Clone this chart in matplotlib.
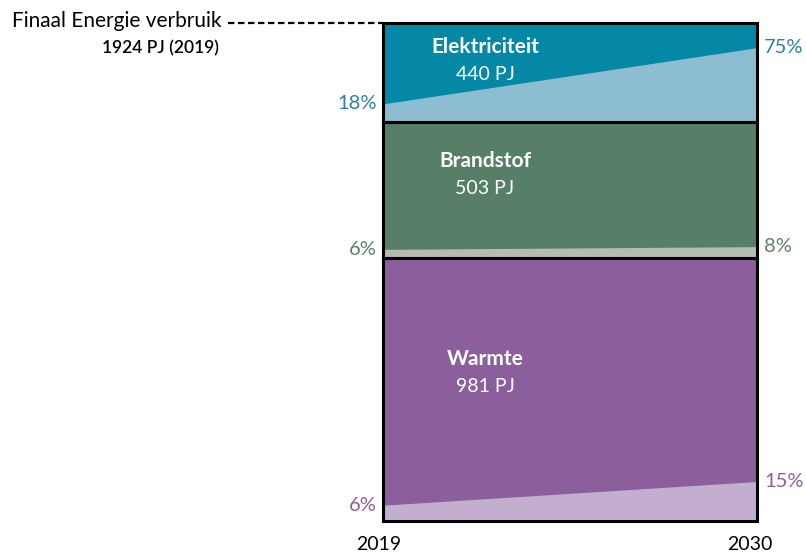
import matplotlib
matplotlib.use("Agg")
import matplotlib.pyplot as plt
import matplotlib.transforms as mtransforms

plt.rcParams['font.family'] = ['Lato', 'DejaVu Sans']

# ---- data ----
years = [2019, 2030]
categories = ["Warmte", "Brandstof", "Elektriciteit"]       # bottom -> top
pj_values = [981, 503, 440]                                    # labels (PJ)
drawn_height = [1018, 525, 381]                                # block heights as drawn in picture
share_2019 = [6, 6, 18]                                        # renewable share (%)
share_2030 = [15, 8, 75]
total_label = "1924 PJ (2019)"
title_label = "Finaal Energie verbruik"

dark_colors = ["#8B5F9B", "#577F67", "#0587A6"]
light_colors = ["#C4AECF", "#B5BCB1", "#8CBDD0"]
pct_colors = ["#8B5F9B", "#5E8068", "#2D80A6"]

# ---- figure ----
W, H = 806, 553
fig = plt.figure(figsize=(W / 100, H / 100), dpi=100)
left, right, top, bottom = 383, 757, 23, 521
ax = fig.add_axes([left / W, 1 - bottom / H, (right - left) / W, (bottom - top) / H])
total = sum(drawn_height)
ax.set_xlim(years[0], years[1])
ax.set_ylim(0, total)
ax.axis("off")

base = 0
label_x = 2022.0
label_frac = [0.385, 0.29, 0.24]
for i, cat in enumerate(categories):
    h = drawn_height[i]
    y0, y1 = base, base + h
    ax.fill_between(years, [y0, y0], [y1, y1], color=dark_colors[i], lw=0)
    ax.fill_between(years, [y0, y0],
                    [y0 + h * share_2019[i] / 100, y0 + h * share_2030[i] / 100],
                    color=light_colors[i], lw=0)
    ax.plot([years[0], years[1], years[1], years[0], years[0]],
            [y0, y0, y1, y1, y0], color="black", lw=2.2, clip_on=False,
            solid_joinstyle="miter")
    # block labels
    yc = y1 - h * label_frac[i]
    ax.text(label_x, yc, cat, color="white", fontsize=15, fontweight="bold",
            ha="center", va="center")
    ax.text(label_x, yc - total * 0.055, f"{pj_values[i]} PJ", color="white",
            fontsize=14, ha="center", va="center")
    # percentage labels
    off = mtransforms.offset_copy(ax.transData, fig=fig, x=-6, y=0, units="dots")
    ax.text(years[0], y0 + h * share_2019[i] / 100, f"{share_2019[i]}%",
            color=pct_colors[i], fontsize=14.5, ha="right", va="center",
            transform=off)
    off2 = mtransforms.offset_copy(ax.transData, fig=fig, x=7, y=0, units="dots")
    ax.text(years[1], y0 + h * share_2030[i] / 100, f"{share_2030[i]}%",
            color=pct_colors[i], fontsize=14.5, ha="left", va="center",
            transform=off2)
    base = y1

# dashed leader line for total
blend = mtransforms.blended_transform_factory(ax.transAxes, ax.transData)
ax.plot([-(left - 228) / (right - left), 0], [total, total], color="black",
        lw=1.6, ls=(0, (2.9, 1.6)), transform=blend, clip_on=False)
fig.text(117 / W, 1 - 21 / H, title_label, fontsize=15, ha="center", va="center",
         color="black")
fig.text(160 / W, 1 - 48 / H, total_label, fontsize=12.5, ha="center", va="center",
         color="black", fontweight="semibold")

# year labels
for yr, xpix in zip(years, [379, 750]):
    fig.text(xpix / W, 1 - 544 / H, str(yr), fontsize=14, ha="center",
             va="center", color="black")

fig.savefig("out.png", dpi=100, facecolor="white")
